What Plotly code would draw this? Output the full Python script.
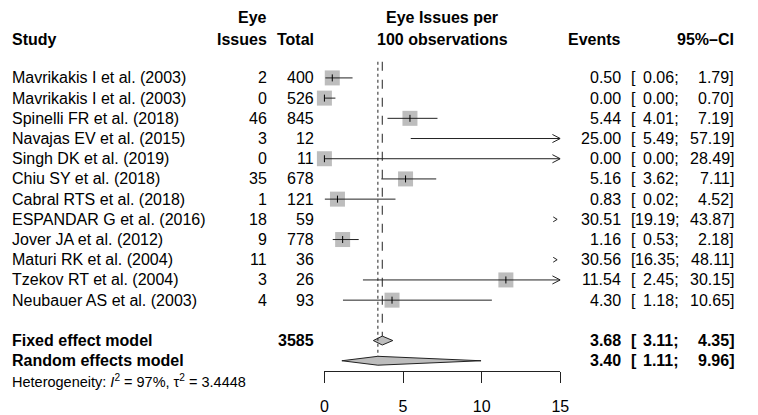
import plotly.graph_objects as go

# ---------------- data ----------------
studies = ["Mavrikakis I et al. (2003)", "Mavrikakis I et al. (2003)", "Spinelli FR et al. (2018)",
           "Navajas EV et al. (2015)", "Singh DK et al. (2019)", "Chiu SY et al. (2018)",
           "Cabral RTS et al. (2018)", "ESPANDAR G et al. (2016)", "Jover JA et al. (2012)",
           "Maturi RK et al. (2004)", "Tzekov RT et al. (2004)", "Neubauer AS et al. (2003)"]
eye_issues = [2, 0, 46, 3, 0, 35, 1, 18, 9, 11, 3, 4]
totals = [400, 526, 845, 12, 11, 678, 121, 59, 778, 36, 26, 93]
events = [0.50, 0.00, 5.44, 25.00, 0.00, 5.16, 0.83, 30.51, 1.16, 30.56, 11.54, 4.30]
lower = [0.06, 0.00, 4.01, 5.49, 0.00, 3.62, 0.02, 19.19, 0.53, 16.35, 2.45, 1.18]
upper = [1.79, 0.70, 7.19, 57.19, 28.49, 7.11, 4.52, 43.87, 2.18, 48.11, 30.15, 10.65]

model_names = ["Fixed effect model", "Random effects model"]
model_est = [3.68, 3.40]
model_lower = [3.11, 1.11]
model_upper = [4.35, 9.96]
total_n = 3585
i2 = 97
tau2 = 3.4448

tick_vals = [0, 5, 10, 15]
x_min, x_max = 0, 15

# ---------------- layout helpers ----------------
W, H = 758, 415
FONT = "Liberation Sans, Arial, Helvetica, sans-serif"
FS = 16
DARK = "#222222"
SQ = "#bdbdbd"


def px(x):
    return x / W


n = len(studies)
rows = list(range(n))
row_fixed = n + 1
row_random = n + 2
row_het = n + 3
row_hdr2 = -1.9
row_hdr1 = -3.0
first_px, row_h = 78.3, 20.3
y_top = -first_px / row_h
y_bot = (H - first_px) / row_h

fig = go.Figure()

# squares (studies whose estimate lies inside the axis range)
sx, sy = [], []
for i in rows:
    if x_min <= events[i] <= x_max:
        sx.append(events[i]); sy.append(i)
fig.add_trace(go.Scatter(x=sx, y=sy, mode="markers", cliponaxis=False,
                         marker=dict(symbol="square", size=15, color=SQ, line=dict(width=0)),
                         hoverinfo="skip", showlegend=False))

# confidence interval lines + arrows
lx, ly = [], []
ah_dx, ah_dy = 0.5, 0.2
for i in rows:
    lo, hi = lower[i], upper[i]
    if lo > x_max:
        # whole interval beyond the axis: small chevron
        lx += [x_max - 0.45, x_max - 0.2, x_max - 0.45, None]
        ly += [i - 0.12, i, i + 0.12, None]
        continue
    a = max(lo, x_min)
    b = min(hi, x_max)
    lx += [a, b, None]
    ly += [i, i, None]
    if hi > x_max:
        lx += [x_max - ah_dx, x_max, x_max - ah_dx, None]
        ly += [i - ah_dy, i, i + ah_dy, None]
fig.add_trace(go.Scatter(x=lx, y=ly, mode="lines", line=dict(color=DARK, width=1),
                         hoverinfo="skip", showlegend=False))

# point estimate ticks
fig.add_trace(go.Scatter(x=sx, y=sy, mode="markers", cliponaxis=False,
                         marker=dict(symbol="line-ns-open", size=5, color="black",
                                     line=dict(color="black", width=1)),
                         hoverinfo="skip", showlegend=False))

# diamonds
for k, r in enumerate([row_fixed, row_random]):
    e, lo, hi = model_est[k], model_lower[k], model_upper[k]
    h = 0.22
    fig.add_trace(go.Scatter(x=[lo, e, hi, e, lo], y=[r, r - h, r, r + h, r], mode="lines",
                             fill="toself", fillcolor=SQ, line=dict(color=DARK, width=1),
                             hoverinfo="skip", showlegend=False))

# reference lines: fixed (dashed) and random (dotted)
fig.add_shape(type="line", xref="x", yref="y", x0=model_est[0], x1=model_est[0],
              y0=-0.8, y1=row_fixed - 0.22, line=dict(color=DARK, width=1, dash="dash"))
fig.add_shape(type="line", xref="x", yref="y", x0=model_est[1], x1=model_est[1],
              y0=-0.8, y1=row_random - 0.22, line=dict(color=DARK, width=1, dash="dot"))

# ---------------- text ----------------
ann = []


def txt(s, x, y, anchor="left", bold=False, size=FS):
    if bold:
        s = "<b>" + s + "</b>"
    ann.append(dict(text=s, x=px(x), y=y, xref="paper", yref="y", xanchor=anchor,
                    yanchor="middle", showarrow=False, font=dict(family=FONT, size=size, color="black")))


# headers
txt("Study", 6, row_hdr2, bold=True)
txt("Eye", 270, row_hdr1, "right", True)
txt("Issues", 270, row_hdr2, "right", True)
txt("Total", 317, row_hdr2, "right", True)
txt("Eye Issues per", 446, row_hdr1, "center", True)
txt("100 observations", 446, row_hdr2, "center", True)
txt("Events", 630, row_hdr2, "right", True)
txt("95%\u2013CI", 745, row_hdr2, "right", True)


def ci_text(r, e, lo, hi, bold=False):
    txt(f"{e:.2f}", 630, r, "right", bold)
    txt("[", 636, r, "left", bold)
    txt(f"{lo:.2f};", 689, r, "right", bold)
    txt(f"{hi:.2f}]", 745, r, "right", bold)


for i in rows:
    txt(studies[i], 6, i)
    txt(str(eye_issues[i]), 270, i, "right")
    txt(str(totals[i]), 317, i, "right")
    ci_text(i, events[i], lower[i], upper[i])

for k, r in enumerate([row_fixed, row_random]):
    txt(model_names[k], 6, r, bold=True)
    ci_text(r, model_est[k], model_lower[k], model_upper[k], bold=True)
txt(str(total_n), 317, row_fixed, "right", True)

txt(f"Heterogeneity: <i>I</i><sup>2</sup> = {i2}%, \u03c4<sup>2</sup> = {tau2:.4f}", 6, row_het, size=14.5)

fig.update_layout(
    width=W, height=H, margin=dict(l=0, r=0, t=0, b=0),
    paper_bgcolor="white", plot_bgcolor="white",
    annotations=ann, showlegend=False,
    xaxis=dict(domain=[326 / W, 566 / W], range=[x_min, x_max], anchor="free",
               position=(H - 373) / H, showline=True, linecolor=DARK, linewidth=1,
               ticks="outside", ticklen=11, tickcolor=DARK, tickwidth=1,
               tickvals=tick_vals, ticktext=[str(t) for t in tick_vals],
               showgrid=False, zeroline=False, ticklabelstandoff=10,
               tickfont=dict(family=FONT, size=FS, color="black")),
    yaxis=dict(domain=[0, 1], range=[y_bot, y_top], visible=False, showgrid=False, zeroline=False),
)

fig.write_html("out.html", config={"displayModeBar": False},
               post_script="document.body.style.margin='0';")
